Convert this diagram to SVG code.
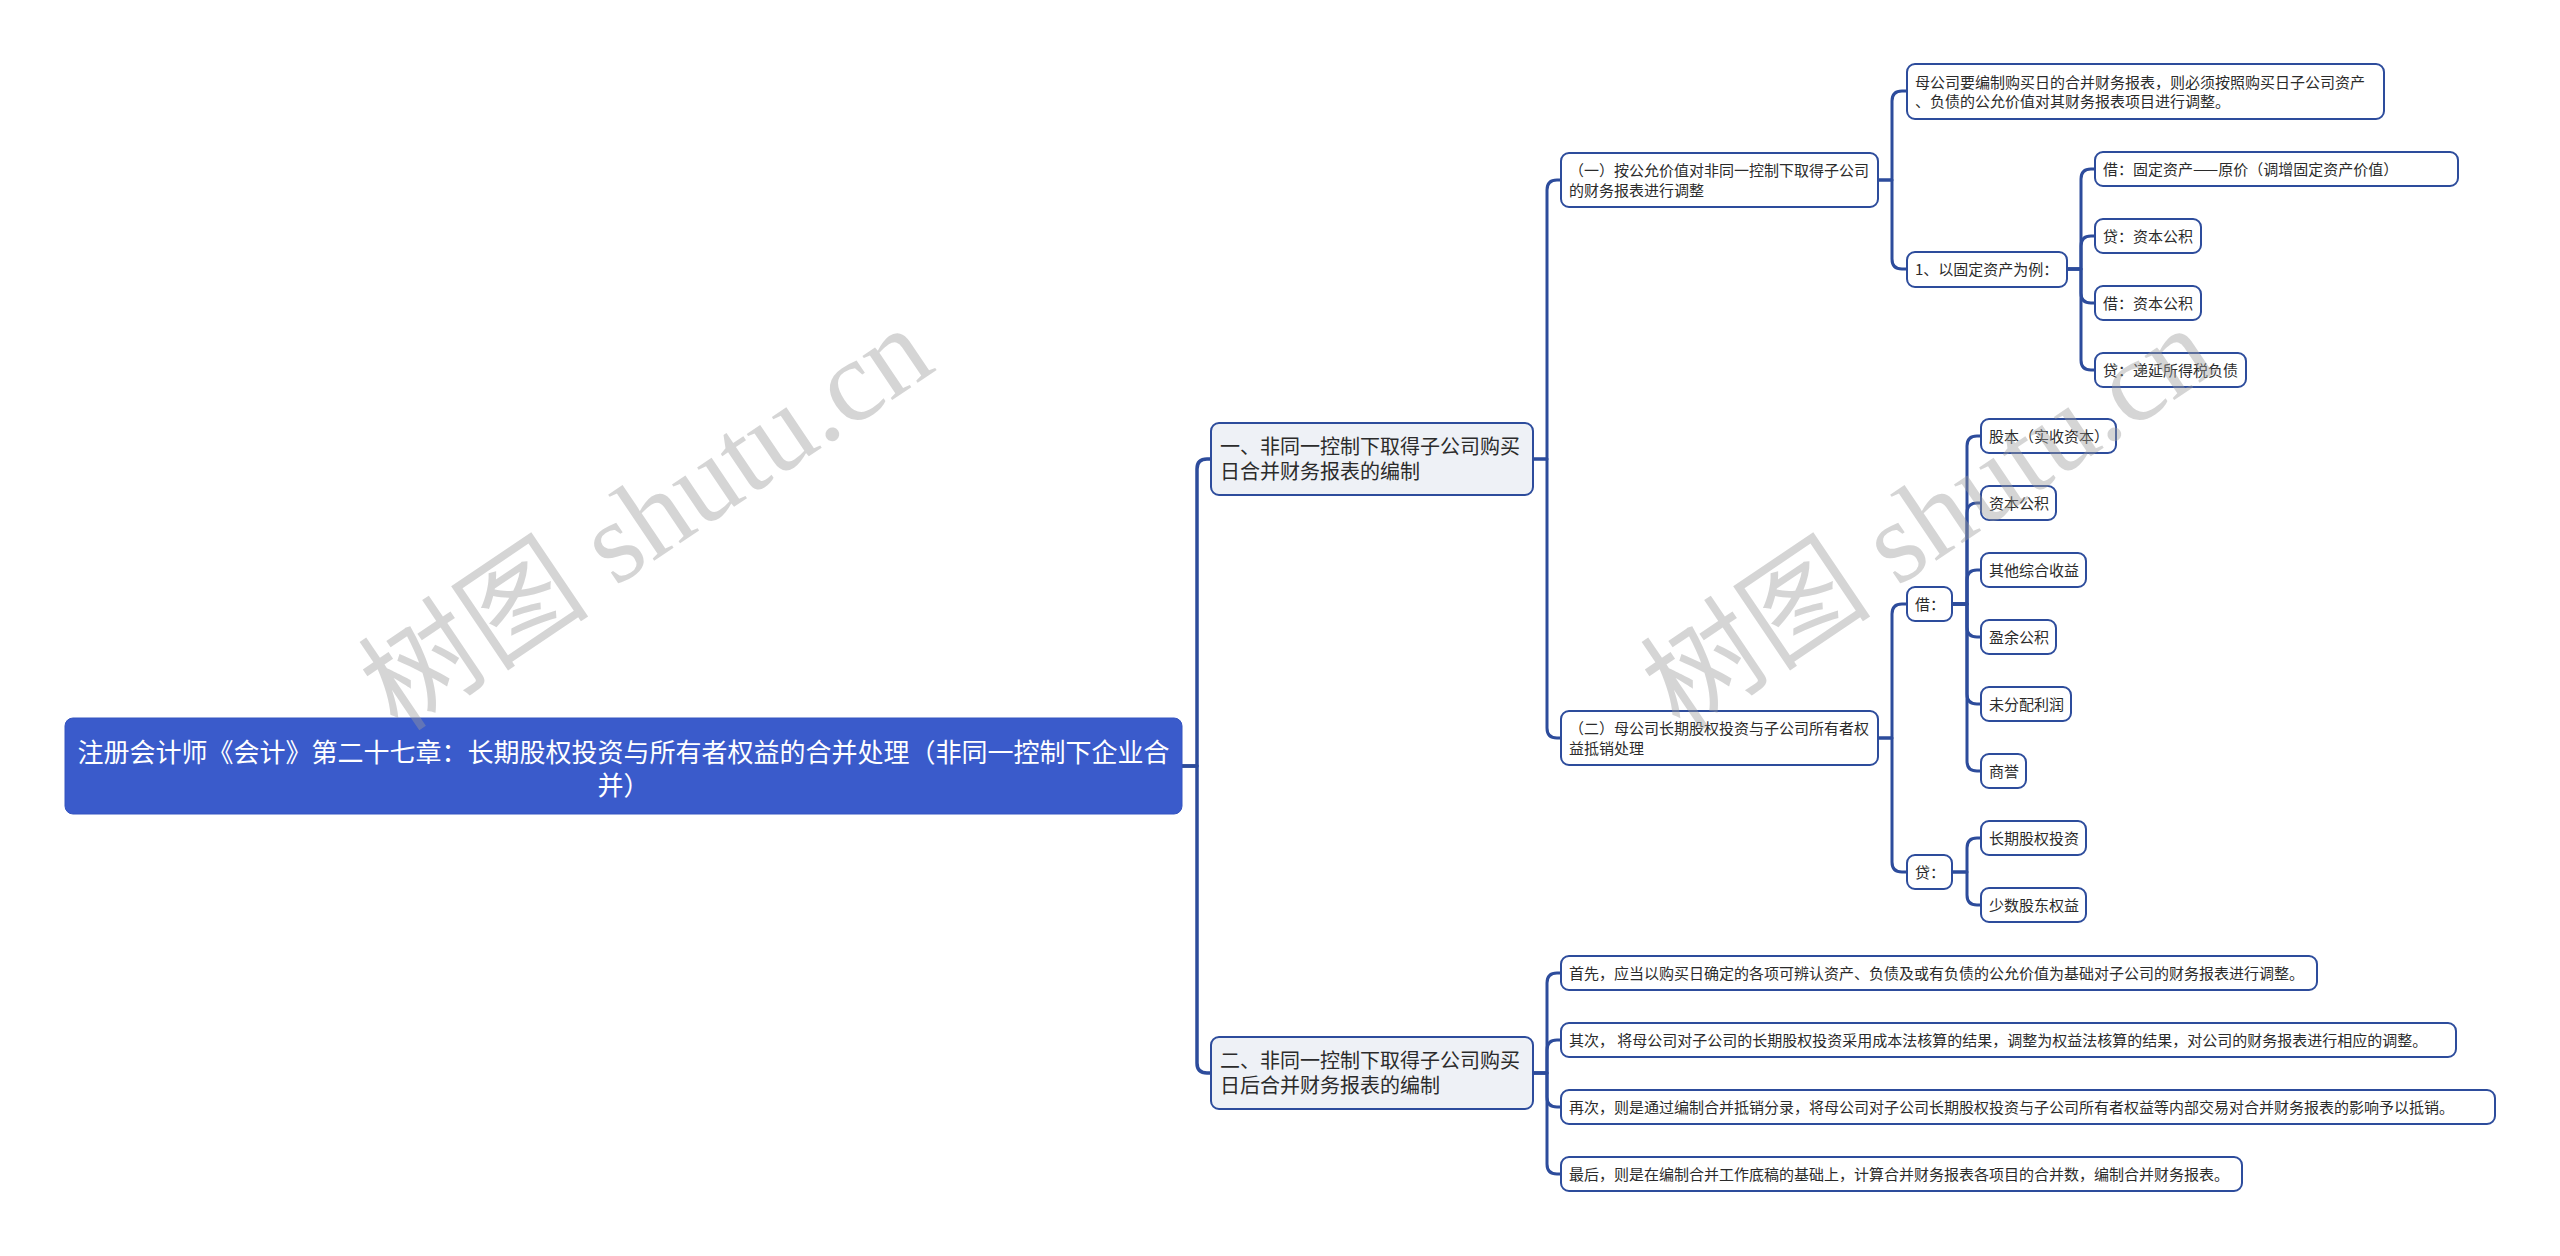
<svg xmlns="http://www.w3.org/2000/svg" width="2560" height="1256" viewBox="0 0 2560 1256">
<style>
  .bg { fill: #ffffff; }
  .root { fill: #3A5BCB; stroke: #3554C0; stroke-width: 1; }
  .l1 { fill: #EEF1F6; stroke: #2D4C9C; stroke-width: 2; }
  .nd { fill: #ffffff; stroke: #2D4C9C; stroke-width: 2; }
  .rt { font-family: "Noto Sans CJK SC", "Liberation Sans", sans-serif; font-size: 26px; fill: #ffffff; text-anchor: middle; }
  .t1 { font-family: "Noto Sans CJK SC", "Liberation Sans", sans-serif; font-size: 20px; fill: #2b2b2b; }
  .t { font-family: "Noto Sans CJK SC", "Liberation Sans", sans-serif; font-size: 15px; fill: #2b2b2b; }
  .cn { fill: none; stroke: #2D4C9C; stroke-width: 3; stroke-linecap: round; stroke-linejoin: round; }
  .cn0 { fill: none; stroke: #2D4C9C; stroke-width: 3.5; stroke-linecap: round; stroke-linejoin: round; }
  .wm { font-family: "Liberation Serif", "Noto Sans CJK SC", serif; font-size: 116px; fill: #9a9a9a; fill-opacity: 0.42; text-anchor: middle; }
</style>
<rect class="bg" x="0" y="0" width="2560" height="1256"/>

<g id="connectors">
  <!-- root to level 1 -->
  <path class="cn0" d="M1182,766 H1197 V469 Q1197,459 1207,459 H1211"/>
  <path class="cn0" d="M1182,766 H1197 V1063 Q1197,1073 1207,1073 H1211"/>
  <!-- node1 to A, B -->
  <path class="cn" d="M1533,459 H1547 V190 Q1547,180 1557,180 H1561"/>
  <path class="cn" d="M1533,459 H1547 V728 Q1547,738 1557,738 H1561"/>
  <!-- node2 to its 4 children -->
  <path class="cn" d="M1533,1073 H1547 V983 Q1547,973 1557,973 H1561"/>
  <path class="cn" d="M1533,1073 H1547 V1050 Q1547,1040 1557,1040 H1561"/>
  <path class="cn" d="M1533,1073 H1547 V1097 Q1547,1107 1557,1107 H1561"/>
  <path class="cn" d="M1533,1073 H1547 V1164 Q1547,1174 1557,1174 H1561"/>
  <!-- A to A1, A2 -->
  <path class="cn" d="M1878,180 H1892 V101 Q1892,91 1902,91 H1907"/>
  <path class="cn" d="M1878,180 H1892 V259 Q1892,269 1902,269 H1907"/>
  <!-- A2 to 4 -->
  <path class="cn" d="M2067,269 H2081 V179 Q2081,169 2091,169 H2095"/>
  <path class="cn" d="M2067,269 H2081 V246 Q2081,236 2091,236 H2095"/>
  <path class="cn" d="M2067,269 H2081 V293 Q2081,303 2091,303 H2095"/>
  <path class="cn" d="M2067,269 H2081 V360 Q2081,370 2091,370 H2095"/>
  <!-- B to 借, 贷 -->
  <path class="cn" d="M1878,738 H1892 V614 Q1892,604 1902,604 H1907"/>
  <path class="cn" d="M1878,738 H1892 V862 Q1892,872 1902,872 H1907"/>
  <!-- 借 to 6 -->
  <path class="cn" d="M1952,604 H1967 V446 Q1967,436 1977,436 H1981"/>
  <path class="cn" d="M1952,604 H1967 V513 Q1967,503 1977,503 H1981"/>
  <path class="cn" d="M1952,604 H1967 V580 Q1967,570 1977,570 H1981"/>
  <path class="cn" d="M1952,604 H1967 V627 Q1967,637 1977,637 H1981"/>
  <path class="cn" d="M1952,604 H1967 V694 Q1967,704 1977,704 H1981"/>
  <path class="cn" d="M1952,604 H1967 V761 Q1967,771 1977,771 H1981"/>
  <!-- 贷 to 2 -->
  <path class="cn" d="M1952,872 H1967 V848 Q1967,838 1977,838 H1981"/>
  <path class="cn" d="M1952,872 H1967 V895 Q1967,905 1977,905 H1981"/>
</g>

<g id="root">
  <rect class="root" x="65" y="718" width="1117" height="96" rx="8"/>
  <text class="rt" x="623.5" y="762">注册会计师《会计》第二十七章：长期股权投资与所有者权益的合并处理（非同一控制下企业合</text>
  <text class="rt" x="623.5" y="795">并）</text>
</g>

<g id="n1">
  <rect class="l1" x="1211" y="423" width="322" height="72" rx="8"/>
  <text class="t1" x="1220" y="454">一、非同一控制下取得子公司购买</text>
  <text class="t1" x="1220" y="479">日合并财务报表的编制</text>
</g>
<g id="n2">
  <rect class="l1" x="1211" y="1037" width="322" height="72" rx="8"/>
  <text class="t1" x="1220" y="1068">二、非同一控制下取得子公司购买</text>
  <text class="t1" x="1220" y="1093">日后合并财务报表的编制</text>
</g>

<g id="nA">
  <rect class="nd" x="1561" y="153" width="317" height="54" rx="8"/>
  <text class="t" x="1569" y="176">（一）按公允价值对非同一控制下取得子公司</text>
  <text class="t" x="1569" y="196">的财务报表进行调整</text>
</g>
<g id="nB">
  <rect class="nd" x="1561" y="711" width="317" height="54" rx="8"/>
  <text class="t" x="1569" y="734">（二）母公司长期股权投资与子公司所有者权</text>
  <text class="t" x="1569" y="754">益抵销处理</text>
</g>

<g id="nA1">
  <rect class="nd" x="1907" y="64" width="477" height="55" rx="8"/>
  <text class="t" x="1915" y="88">母公司要编制购买日的合并财务报表，则必须按照购买日子公司资产</text>
  <text class="t" x="1915" y="107">、负债的公允价值对其财务报表项目进行调整。</text>
</g>
<g id="nA2">
  <rect class="nd" x="1907" y="252" width="160" height="35" rx="8"/>
  <text class="t" x="1915" y="275">1、以固定资产为例：</text>
</g>

<g id="nA2a">
  <rect class="nd" x="2095" y="152" width="363" height="34" rx="8"/>
  <text class="t" x="2103" y="175">借：固定资产——原价（调增固定资产价值）</text>
</g>
<g id="nA2b">
  <rect class="nd" x="2095" y="219" width="106" height="34" rx="8"/>
  <text class="t" x="2103" y="242">贷：资本公积</text>
</g>
<g id="nA2c">
  <rect class="nd" x="2095" y="286" width="106" height="34" rx="8"/>
  <text class="t" x="2103" y="309">借：资本公积</text>
</g>
<g id="nA2d">
  <rect class="nd" x="2095" y="353" width="151" height="34" rx="8"/>
  <text class="t" x="2103" y="376">贷：递延所得税负债</text>
</g>

<g id="nJie">
  <rect class="nd" x="1907" y="587" width="45" height="34" rx="8"/>
  <text class="t" x="1915" y="610">借：</text>
</g>
<g id="nDai">
  <rect class="nd" x="1907" y="855" width="45" height="34" rx="8"/>
  <text class="t" x="1915" y="878">贷：</text>
</g>

<g id="nJ1">
  <rect class="nd" x="1981" y="419" width="135" height="34" rx="8"/>
  <text class="t" x="1989" y="442">股本（实收资本）</text>
</g>
<g id="nJ2">
  <rect class="nd" x="1981" y="486" width="75" height="34" rx="8"/>
  <text class="t" x="1989" y="509">资本公积</text>
</g>
<g id="nJ3">
  <rect class="nd" x="1981" y="553" width="105" height="34" rx="8"/>
  <text class="t" x="1989" y="576">其他综合收益</text>
</g>
<g id="nJ4">
  <rect class="nd" x="1981" y="620" width="75" height="34" rx="8"/>
  <text class="t" x="1989" y="643">盈余公积</text>
</g>
<g id="nJ5">
  <rect class="nd" x="1981" y="687" width="90" height="34" rx="8"/>
  <text class="t" x="1989" y="710">未分配利润</text>
</g>
<g id="nJ6">
  <rect class="nd" x="1981" y="754" width="45" height="34" rx="8"/>
  <text class="t" x="1989" y="777">商誉</text>
</g>
<g id="nD1">
  <rect class="nd" x="1981" y="821" width="105" height="34" rx="8"/>
  <text class="t" x="1989" y="844">长期股权投资</text>
</g>
<g id="nD2">
  <rect class="nd" x="1981" y="888" width="105" height="34" rx="8"/>
  <text class="t" x="1989" y="911">少数股东权益</text>
</g>

<g id="n21">
  <rect class="nd" x="1561" y="956" width="756" height="34" rx="8"/>
  <text class="t" x="1569" y="979">首先，应当以购买日确定的各项可辨认资产、负债及或有负债的公允价值为基础对子公司的财务报表进行调整。</text>
</g>
<g id="n22">
  <rect class="nd" x="1561" y="1023" width="895" height="34" rx="8"/>
  <text class="t" x="1569" y="1046">其次， 将母公司对子公司的长期股权投资采用成本法核算的结果，调整为权益法核算的结果，对公司的财务报表进行相应的调整。</text>
</g>
<g id="n23">
  <rect class="nd" x="1561" y="1090" width="934" height="34" rx="8"/>
  <text class="t" x="1569" y="1113">再次，则是通过编制合并抵销分录，将母公司对子公司长期股权投资与子公司所有者权益等内部交易对合并财务报表的影响予以抵销。</text>
</g>
<g id="n24">
  <rect class="nd" x="1561" y="1157" width="681" height="34" rx="8"/>
  <text class="t" x="1569" y="1180">最后，则是在编制合并工作底稿的基础上，计算合并财务报表各项目的合并数，编制合并财务报表。</text>
</g>

<g id="watermarks">
  <text class="wm" x="646" y="558" transform="rotate(-34 646 518)">树图 shutu.cn</text>
  <text class="wm" x="1928" y="558" transform="rotate(-34 1928 518)">树图 shutu.cn</text>
</g>
</svg>
